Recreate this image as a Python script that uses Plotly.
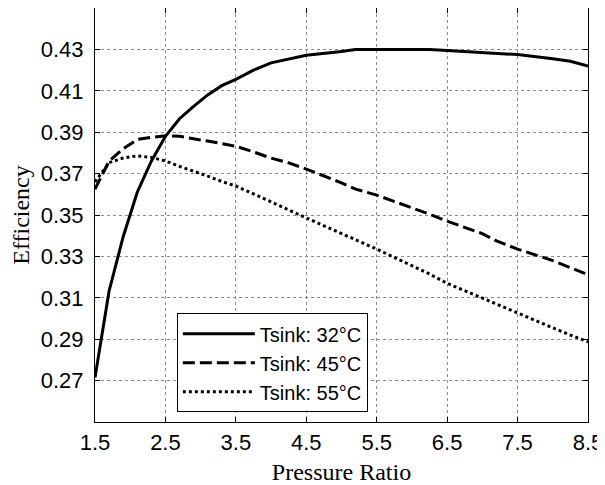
import plotly.graph_objects as go

pressure_ratio = [1.5, 1.7, 1.9, 2.1, 2.3, 2.5, 2.7, 2.9, 3.1, 3.3, 3.5, 3.75, 4.0, 4.25,
                  4.5, 5.0, 5.2, 5.5, 6.0, 6.25, 6.5, 7.0, 7.2, 7.5, 8.0, 8.25, 8.5]

eff_32 = [0.2715, 0.3133, 0.3395, 0.3610, 0.3760, 0.3880, 0.3965, 0.4025, 0.4080, 0.4125,
          0.4155, 0.4200, 0.4235, 0.4255, 0.4272, 0.4290, 0.4299, 0.4300, 0.4300, 0.4300,
          0.4295, 0.4285, 0.4278, 0.4275, 0.4255, 0.4243, 0.4220]

eff_45 = [0.3625, 0.3760, 0.3820, 0.3865, 0.3875, 0.3883, 0.3880, 0.3870, 0.3857, 0.3845,
          0.3832, 0.3805, 0.3775, 0.3752, 0.3722, 0.3655, 0.3625, 0.3596, 0.3535, 0.3504,
          0.3470, 0.3410, 0.3375, 0.3335, 0.3280, 0.3245, 0.3211]

eff_55 = [0.3660, 0.3753, 0.3775, 0.3786, 0.3778, 0.3761, 0.3735, 0.3712, 0.3688, 0.3662,
          0.3640, 0.3602, 0.3562, 0.3525, 0.3486, 0.3410, 0.3382, 0.3335, 0.3255, 0.3215,
          0.3170, 0.3098, 0.3070, 0.3024, 0.2955, 0.2920, 0.2887]

series_names = ["Tsink: 32°C", "Tsink: 45°C", "Tsink: 55°C"]
x_ticks = [1.5, 2.5, 3.5, 4.5, 5.5, 6.5, 7.5, 8.5]
y_ticks = [0.27, 0.29, 0.31, 0.33, 0.35, 0.37, 0.39, 0.41, 0.43]

dashes = ["solid", "12px,5px", "3px,3px"]

fig = go.Figure()
for name, ys, d in zip(series_names, [eff_32, eff_45, eff_55], dashes):
    fig.add_trace(go.Scatter(x=pressure_ratio, y=ys, mode="lines", name=name,
                             line=dict(color="black", width=3, dash=d)))

axis_common = dict(
    showline=True, linecolor="black", linewidth=1, mirror="ticks",
    ticks="inside", ticklen=5, tickcolor="black",
    showgrid=True, gridcolor="#8c8c8c", gridwidth=1, griddash="dot",
    zeroline=False,
    tickfont=dict(family="Liberation Sans, Arial", size=22, color="black"),
)

fig.update_layout(
    width=597, height=477,
    margin=dict(l=87, r=17, t=0, b=63),
    paper_bgcolor="white", plot_bgcolor="white",
    showlegend=True,
    legend=dict(x=0.166, y=0.0234, xanchor="left", yanchor="bottom",
                bgcolor="white", bordercolor="black", borderwidth=1,
                font=dict(family="Liberation Sans, Arial", size=20, color="black"),
                itemwidth=72),
    xaxis=dict(range=[1.5, 8.5], tickvals=x_ticks, ticktext=[str(v) for v in x_ticks],
               ticklabelstandoff=1,
               title=dict(text="Pressure Ratio", standoff=9,
                          font=dict(family="Liberation Serif, Times New Roman", size=24, color="black")),
               **axis_common),
    yaxis=dict(range=[0.25, 0.45], tickvals=y_ticks, ticktext=[f"{v:.2f}" for v in y_ticks],
               ticklabelstandoff=6,
               title=dict(text="Efficiency", standoff=8,
                          font=dict(family="Liberation Serif, Times New Roman", size=24, color="black")),
               **axis_common),
)

fig.write_html("out.html")
